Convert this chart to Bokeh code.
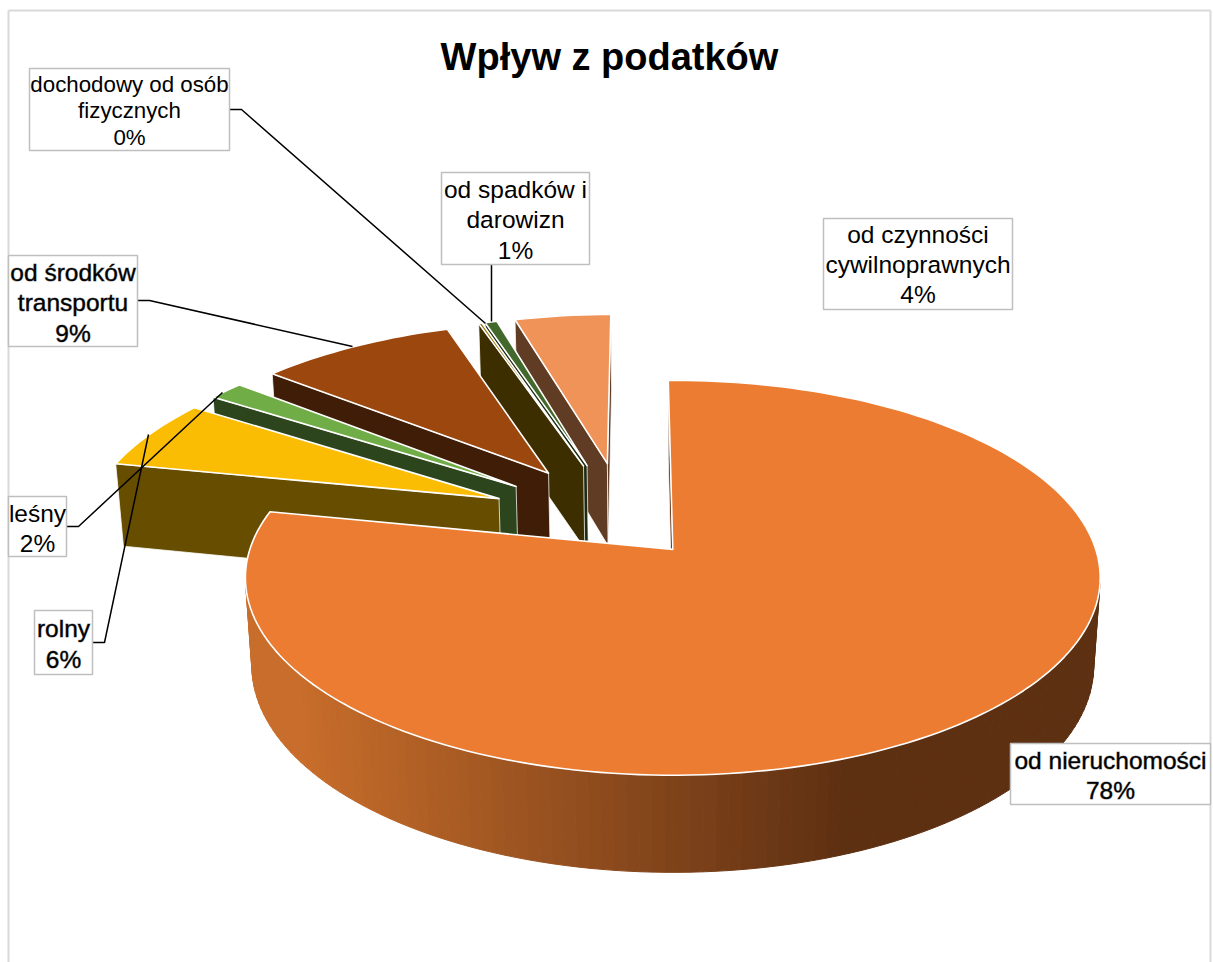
import math
from bokeh.plotting import figure
from bokeh.models import Range1d
from bokeh.embed import file_html
from bokeh.resources import INLINE
from bokeh.core.properties import value

# ---- data ----
categories = ["od nieruchomości", "rolny", "leśny", "od środków transportu",
              "dochodowy od osób fizycznych", "od spadków i darowizn", "od czynności cywilnoprawnych"]
shares = [78.4, 6.0, 1.6, 8.9, 0.15, 0.55, 4.4]
title = "Wpływ z podatków"
label_lines = [["od nieruchomości"], ["rolny"], ["leśny"], ["od środków", "transportu"],
               ["dochodowy od osób", "fizycznych"], ["od spadków i", "darowizn"],
               ["od czynności", "cywilnoprawnych"]]

# ---- style / layout ----
top_colors = ["#EB7C31", "#FBBD03", "#70AD47", "#9C470D", "#997300", "#43682B", "#EF9358"]
wall_colors = ["#5E2F12", "#664D00", "#2D451D", "#3F1D06", "#3D2E00", "#1B2A11", "#603C24"]
explode = [0.191, 0.33, 0.33, 0.33, 0.33, 0.33, 0.33]
nudge_u = [0.0, 0.0, 0.0, 0.0, 0.003, 0.005, 0.006]
rotation_deg = -0.7
box_rects = [(1010, 743, 1210, 804), (34, 610, 92, 674), (8, 496, 66, 556), (8, 255, 137, 346),
             (29, 68, 229, 150), (441, 172, 589, 264), (823, 218, 1012, 309)]
line_ys = [[760, 790], [628, 659], [513, 543], [272, 302, 333], [84, 110, 137], [189, 219, 250], [234, 264, 294]]
font_px = [24.5, 24.5, 24.5, 24.5, 22.3, 24.5, 24.5]
heavy = [True, True, False, True, False, False, False]
leaders = [None, [(92, 642), (104, 642), (148, 434)], [(66, 526), (78, 526), (222, 392)],
           [(137, 300), (149, 300), (352, 346)], [(229, 109), (241, 109), (485, 323)],
           [(491, 264), (491, 321)], None]
FONT = "Liberation Sans"

# projection of the pie plane
CX, CY, A, B, K, M, D = 672.0, 549.0, 423.0, 193.4, 0.144, 0.015, 88.0
C0 = (-0.121, 0.148)


def project(u, v, low=False):
    if low:
        w = 1 + K * v + M
        return CX + A * u / w, CY - (B * v - D) / w
    w = 1 + K * v
    return CX + A * u / w, CY - B * v / w


def mix(t):
    t = max(0.0, min(1.0, t))
    a, b = (200, 109, 43), (94, 48, 18)
    return "#%02x%02x%02x" % tuple(round(a[i] + (b[i] - a[i]) * t) for i in range(3))


p = figure(width=1213, height=962, x_range=Range1d(0, 1213), y_range=Range1d(962, 0),
           output_backend="svg", toolbar_location=None, min_border=0, outline_line_color=None)
p.axis.visible = False
p.grid.visible = False

# chart frame
p.line([8, 8], [962, 10], line_color="#D9D9D9", line_width=2)
p.line([8, 1210], [10, 10], line_color="#D9D9D9", line_width=2)
p.line([1210, 1210], [10, 962], line_color="#D9D9D9", line_width=2)

total = sum(shares)
rot = math.radians(rotation_deg)
starts, acc = [], 0.0
for s in shares:
    starts.append(rot + acc / total * 2 * math.pi)
    acc += s

slices = []
for i, s in enumerate(shares):
    t0 = starts[i]
    t1 = t0 + s / total * 2 * math.pi
    mid = (t0 + t1) / 2
    ax = C0[0] + explode[i] * math.sin(mid) + nudge_u[i]
    ay = C0[1] + explode[i] * math.cos(mid)
    n = max(2, int((t1 - t0) / math.radians(1.5)))
    ring = [(ax + math.sin(t0 + (t1 - t0) * j / n), ay + math.cos(t0 + (t1 - t0) * j / n)) for j in range(n + 1)]
    slices.append((i, (ax, ay), ring))

# back slices first, the big front slice last
for i, apex, ring in reversed(slices):
    loop = [apex] + ring
    m = len(loop)
    for j in range(m):
        a, b = loop[j], loop[(j + 1) % m]
        radial = j == 0 or j == m - 1
        pa, pb = project(*a), project(*b)
        qb, qa = project(*b, low=True), project(*a, low=True)
        quad = [pa, pb, qb, qa]
        area = sum(quad[k][0] * quad[(k + 1) % 4][1] - quad[(k + 1) % 4][0] * quad[k][1] for k in range(4))
        if area >= 0:      # faces away from the viewer
            continue
        xs = [q[0] for q in quad]
        ys = [q[1] for q in quad]
        if i == 0 and not radial:
            col = mix((sum(xs) / 4 - 300) / 540)
        else:
            col = wall_colors[i]
        if radial:
            p.patch(xs, ys, fill_color=col, line_color="white", line_alpha=0.75, line_width=1)
        else:
            p.patch(xs, ys, fill_color=col, line_color=col, line_width=1)
    pts = [project(*q) for q in loop]
    p.patch([q[0] for q in pts], [q[1] for q in pts], fill_color=top_colors[i],
            line_color="white", line_width=1.6, line_join="round")

# leader lines
for path in leaders:
    if path:
        p.line([q[0] for q in path], [q[1] for q in path], line_color="black", line_width=1.5)

# label boxes and texts
for i, lines in enumerate(label_lines):
    x0, y0, x1, y1 = box_rects[i]
    p.quad(left=[x0], right=[x1], top=[y0], bottom=[y1], fill_color="white",
           line_color="#BFBFBF", line_width=1.5)
    texts = lines + ["%d%%" % round(shares[i])]
    xc = (x0 + x1) / 2
    kw = {}
    if heavy[i]:
        kw = dict(text_outline_color="#00000070")
    p.text([xc] * len(texts), line_ys[i], text=texts, text_font=value(FONT),
           text_font_size="%.1fpx" % font_px[i], text_align="center", text_baseline="middle",
           text_color="#000000", **kw)

p.text([609], [56], text=[title], text_font=value(FONT), text_font_size="38px",
       text_font_style="bold", text_align="center", text_baseline="middle", text_color="#000000")

open("out.html", "w").write(file_html(p, INLINE))
